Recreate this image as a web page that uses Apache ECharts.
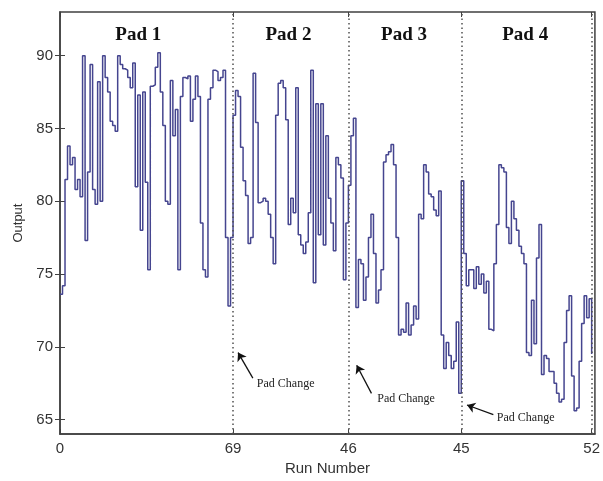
<!DOCTYPE html>
<html>
<head>
<meta charset="utf-8">
<script src="https://cdn.jsdelivr.net/npm/echarts@6/dist/echarts.min.js"></script>
<style>
  html, body { margin: 0; padding: 0; background: #fff; }
  #chart { width: 603px; height: 481px; }
</style>
</head>
<body>
<div id="chart"></div>
<script>
  // runs per pad (the x tick labels show these counts)
  const padNames = ['Pad 1', 'Pad 2', 'Pad 3', 'Pad 4'];
  const padRuns = [69, 46, 45, 52];

  // output per run
  const pad1 = [73.6, 74.2, 81.5, 83.8, 82.5, 83, 80.8, 81.5, 80.3, 90,
    77.3, 82, 89.4, 80.8, 79.8, 88.2, 80, 90, 88.5, 87.5,
    85.5, 85.2, 84.8, 90, 89.4, 89.1, 89, 88.5, 87.8, 89.5,
    81, 87.3, 78, 87.5, 81.3, 75.3, 87.9, 88, 89.2, 90.2,
    87.5, 85.2, 80, 79.8, 88.3, 84.5, 86.3, 75.3, 87.2, 88.5,
    88.4, 88.6, 85.5, 87, 88.6, 87.2, 78.5, 75.3, 74.8, 87,
    87.8, 89, 88.9, 88.3, 88.5, 89, 77.5, 72.8, 77.5];
  const pad2 = [85.9, 87.6, 87.2, 83.7, 81.4, 80.4, 77.1, 77.5, 88.8, 85.4,
    79.9, 80, 80.2, 80, 79.1, 77.5, 75.7, 85.9, 88.1, 88.3,
    87.8, 85.6, 78.4, 80.2, 79.2, 87.8, 77.7, 77, 76.4, 77.2,
    79.2, 89, 74.4, 86.7, 77.7, 86.7, 77, 84.5, 80.2, 78.5,
    76.6, 83, 82.5, 81.6, 74.6, 78.5];
  const pad3 = [81.1, 84.5, 85.7, 72.7, 76, 75.7, 73.2, 74.8, 77.5, 79.1,
    76.4, 73, 73.9, 75.3, 82.7, 83.2, 83.4, 83.9, 82.5, 77.5,
    70.8, 71.2, 71, 73, 70.8, 71.5, 72.8, 71.9, 79.1, 78.8,
    82.5, 82, 80.5, 80.3, 79.4, 79, 80.7, 70.8, 68.5, 70.3,
    69.4, 68.5, 69, 71.7, 66.8];
  const pad4 = [81.4, 76.4, 74.2, 75.3, 75.3, 74, 75.5, 74.3, 75, 73.7,
    74.5, 71.2, 71.1, 75.7, 78.4, 82.5, 82.3, 82, 78.2, 77.1,
    80, 78.8, 78, 76.9, 76.4, 75.7, 69.6, 69.4, 73.2, 70.2,
    76.1, 78.4, 68.1, 69.4, 69.2, 68.3, 68.3, 67.5, 66.8, 66.2,
    66.4, 70.3, 72.5, 73.5, 68, 65.6, 65.8, 69, 71.6, 73.5,
    72, 73.3, 69.5];

  const yTicks = [65, 70, 75, 80, 85, 90];

  // annotation anchors, in run / output units
  const padLabelAt = [[31.2, 91.4], [91.1, 91.4], [137.2, 91.4], [185.5, 91.4]];
  const arrowFrom = [[76.9, 67.85], [124.2, 66.8], [172.8, 65.34]];
  const arrowTo = [[71, 69.6], [118.3, 68.73], [162.3, 66.0]];
  const changeTextAt = [[78.5, 67.45], [126.5, 66.42], [174.2, 65.1]];

  const output = pad1.concat(pad2, pad3, pad4);
  const points = output.map((v, i) => [i, v]);
  const bounds = [0];
  padRuns.forEach(n => bounds.push(bounds[bounds.length - 1] + n));
  const xTickText = ['0'].concat(padRuns.map(String));

  const axisColor = '#404040';
  const sans = 'Liberation Sans';
  const serif = 'Liberation Serif';

  const chart = echarts.init(document.getElementById('chart'));
  chart.setOption({
    animation: false,
    backgroundColor: '#fff',
    grid: {
      left: 60, top: 12, right: 2, bottom: 41,
      show: true, borderColor: axisColor, borderWidth: 1.5
    },
    xAxis: [{
      type: 'value', min: 0, max: 213.3,
      name: 'Run Number', nameLocation: 'middle', nameGap: 26,
      nameTextStyle: { fontFamily: sans, fontSize: 15, color: '#333' },
      axisLine: { show: true, lineStyle: { color: axisColor, width: 1.5 } },
      axisTick: { inside: true, length: 5, customValues: bounds, lineStyle: { color: axisColor } },
      axisLabel: {
        customValues: bounds, margin: 7,
        fontFamily: sans, fontSize: 15, color: '#333',
        formatter: v => xTickText[bounds.indexOf(v)]
      },
      splitLine: { show: false }
    }, {
      type: 'value', min: 0, max: 213.3, position: 'top',
      axisLine: { show: false },
      axisTick: { inside: true, length: 5, customValues: bounds, lineStyle: { color: axisColor } },
      axisLabel: { show: false },
      splitLine: { show: false }
    }],
    yAxis: [{
      type: 'value', min: 64, max: 93,
      name: 'Output', nameLocation: 'middle', nameGap: 35,
      nameTextStyle: { fontFamily: sans, fontSize: 13, color: '#333' },
      axisLine: { show: true, lineStyle: { color: axisColor, width: 1.5 } },
      axisTick: { inside: true, length: 5, customValues: yTicks, lineStyle: { color: axisColor } },
      axisLabel: { customValues: yTicks, margin: 7, fontFamily: sans, fontSize: 15, color: '#333' },
      splitLine: { show: false }
    }, {
      type: 'value', min: 64, max: 93, position: 'right',
      axisLine: { show: false },
      axisTick: { inside: true, length: 5, customValues: yTicks, lineStyle: { color: axisColor } },
      axisLabel: { show: false },
      splitLine: { show: false }
    }],
    series: [{
      name: 'Output',
      type: 'line',
      step: 'end',
      data: points,
      showSymbol: false,
      lineStyle: { color: '#45458f', width: 1.5 },
      markLine: {
        silent: true,
        symbol: 'none',
        label: { show: false },
        lineStyle: { color: '#505050', type: [1.5, 3], width: 1.5 },
        data: bounds.slice(1).map(b => ({ xAxis: b }))
      }
    }, {
      name: 'arrows',
      type: 'line',
      data: [],
      markLine: {
        silent: true,
        symbol: ['none', 'arrow'],
        symbolSize: 8,
        label: { show: false },
        lineStyle: { color: '#111', type: 'solid', width: 1.3 },
        data: arrowFrom.map((a, i) => [{ coord: a }, { coord: arrowTo[i] }])
      }
    }]
  });

  const graphics = [];
  padNames.forEach((name, i) => {
    const p = chart.convertToPixel({ gridIndex: 0 }, padLabelAt[i]);
    graphics.push({
      type: 'text', x: p[0], y: p[1],
      style: {
        text: name, fill: '#111', align: 'center', verticalAlign: 'middle',
        font: 'bold 19px "' + serif + '"'
      }
    });
  });
  changeTextAt.forEach(c => {
    const p = chart.convertToPixel({ gridIndex: 0 }, c);
    graphics.push({
      type: 'text', x: p[0], y: p[1],
      style: {
        text: 'Pad Change', fill: '#222', align: 'left', verticalAlign: 'middle',
        font: '12px "' + serif + '"'
      }
    });
  });
  chart.setOption({ graphic: graphics });
</script>
</body>
</html>
